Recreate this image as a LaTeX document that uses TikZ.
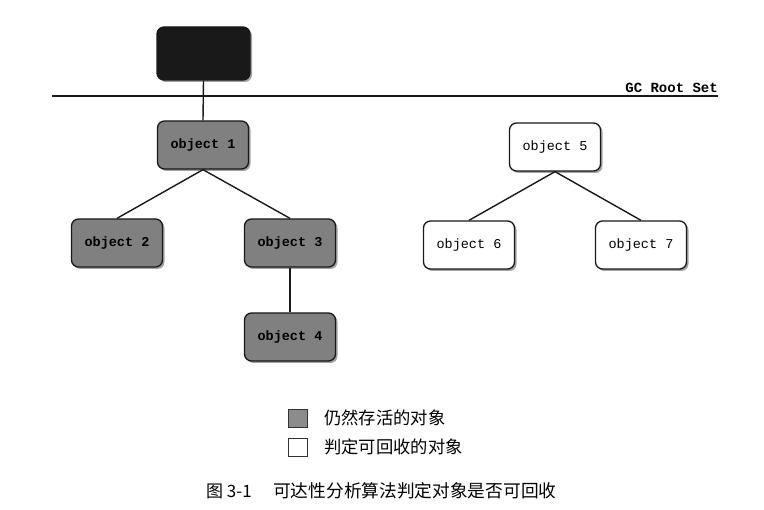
\documentclass[tikz,border=0pt]{standalone}
\usepackage{fontspec}
\setmonofont{Liberation Mono}
\newfontfamily\cjk{Noto Sans CJK SC}
\usetikzlibrary{shadows}
\begin{document}
\begin{tikzpicture}[x=1pt,y=-1pt,
  obj/.style={draw=black!90,line width=1.3pt,rounded corners=7pt,minimum width=91pt,minimum height=48pt,
     font=\ttfamily\bfseries\fontsize{13.5}{14}\selectfont,
     drop shadow={shadow xshift=2pt,shadow yshift=-2pt,fill=black!45,opacity=0.8}},
  live/.style={obj,fill=black!50},
  dead/.style={obj,fill=white,font=\ttfamily\fontsize{13.5}{14}\selectfont},
  root/.style={obj,fill=black!90,minimum width=93pt,minimum height=53pt},
  link/.style={line width=1.4pt,black!90},
  legbox/.style={draw=black!80,line width=0.8pt,minimum width=19pt,minimum height=18pt,inner sep=0pt},
  legtext/.style={anchor=west,font=\cjk\fontsize{17.3}{19}\selectfont,inner sep=0pt}]
\useasboundingbox (0,0) rectangle (764,510);
% root set line
\coordinate (rl) at (52,96);
\coordinate (rr) at (718,96);
\draw[link,line width=1.6pt] (rl) -- (rr);
\node[anchor=south east,font=\ttfamily\bfseries\fontsize{14}{15}\selectfont,inner sep=0pt] (gcr) at (718,93) {GC Root Set};
% nodes
\node[root] (r) at (203.5,53.5) {};
\node[live] (o1) at (203,145) {object 1};
\node[live] (o2) at (117,243) {object 2};
\node[live] (o3) at (290,243) {object 3};
\node[live] (o4) at (290,337) {object 4};
\node[dead] (o5) at (555,147) {object 5};
\node[dead] (o6) at (469,245) {object 6};
\node[dead] (o7) at (641,245) {object 7};
% links
\draw[link] (r.south) -- (o1.north);
\draw[link] (o1.south) -- (o2.north);
\draw[link] (o1.south) -- (o3.north);
\draw[link] (o3.south) -- (o4.north);
\draw[link] (o5.south) -- (o6.north);
\draw[link] (o5.south) -- (o7.north);
% legend
\node[legbox,fill=black!45] (lg1) at (298,418) {};
\node[legtext] (lt1) at (324,418) {仍然存活的对象};
\node[legbox,fill=white] (lg2) at (298,447) {};
\node[legtext] (lt2) at (324,447) {判定可回收的对象};
% caption
\node[anchor=west,font=\cjk\fontsize{17}{18}\selectfont,inner sep=0pt] (capn) at (206,491) {图 3-1};
\node[anchor=west,font=\cjk\fontsize{17.7}{19}\selectfont,inner sep=0pt] (cap) at (273,491) {可达性分析算法判定对象是否可回收};
\end{tikzpicture}
\end{document}
